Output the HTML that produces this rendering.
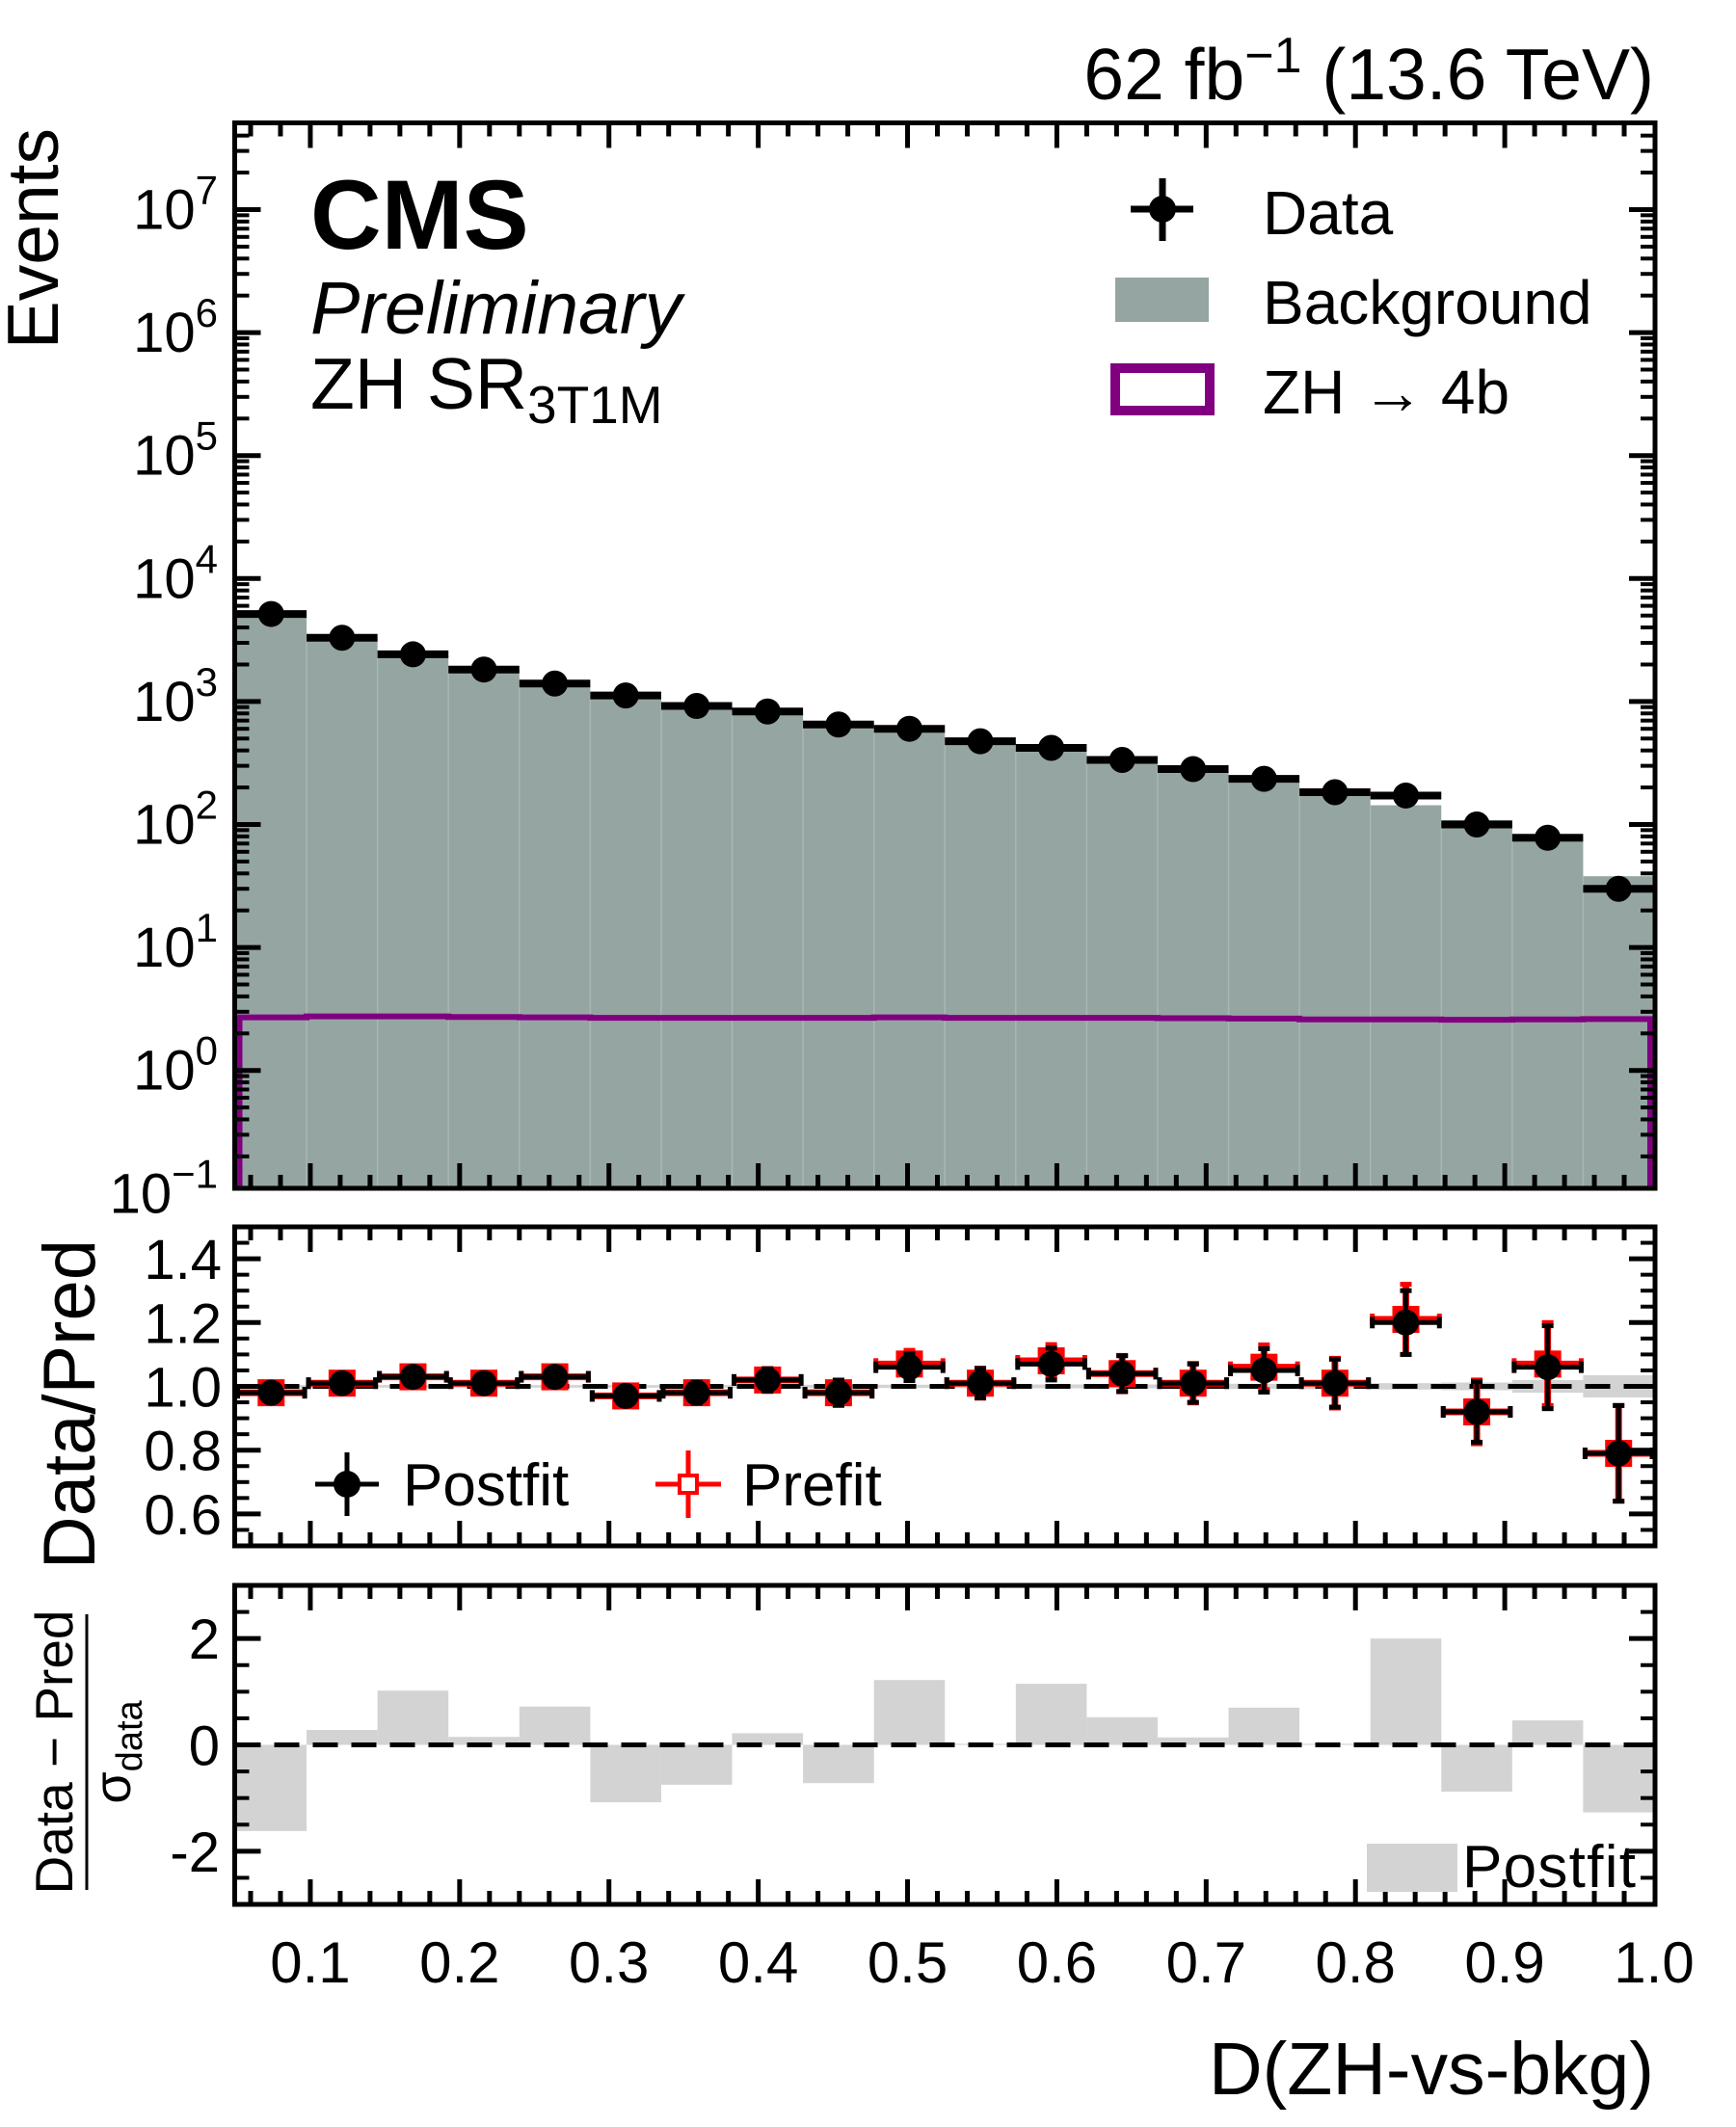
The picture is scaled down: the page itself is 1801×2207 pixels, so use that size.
<!DOCTYPE html>
<html><head><meta charset="utf-8">
<style>
html,body{margin:0;padding:0;background:#fff;}
svg{display:block;font-family:"Liberation Sans",sans-serif;}
</style></head>
<body>
<svg id="chart" width="1801" height="2207" viewBox="0 0 1801 2207" xmlns="http://www.w3.org/2000/svg">
  <g id="main-layer"></g>
  <g id="ratio-layer"></g>
  <g id="pull-layer"></g>
  <g id="axes-layer"></g>

  <text x="1716" y="103" font-size="75" text-anchor="end">62 fb<tspan dy="-28" font-size="52">−1</tspan><tspan dy="28"> (13.6 TeV)</tspan></text>
  <text x="322" y="258" font-size="102" font-weight="bold">CMS</text>
  <text x="322" y="346" font-size="77" font-style="italic">Preliminary</text>
  <text x="322" y="424" font-size="75">ZH SR<tspan dy="15" font-size="55">3T1M</tspan></text>

  <g>
    <line x1="1173" y1="217" x2="1238" y2="217" stroke="#000" stroke-width="7"/>
    <line x1="1206" y1="185" x2="1206" y2="250" stroke="#000" stroke-width="7"/>
    <circle cx="1206" cy="217" r="14"/>
    <text x="1310" y="243" font-size="64">Data</text>
  </g>
  <g>
    <rect x="1157" y="288" width="97" height="46" fill="#95a5a2"/>
    <text x="1310" y="336" font-size="64">Background</text>
  </g>
  <g>
    <rect x="1157" y="382" width="98" height="44" fill="none" stroke="#800080" stroke-width="10"/>
    <text x="1310" y="429" font-size="64">ZH → 4b</text>
  </g>

  <g>
    <line x1="327" y1="1540" x2="393" y2="1540" stroke="#000" stroke-width="5"/>
    <line x1="360" y1="1507" x2="360" y2="1573" stroke="#000" stroke-width="5"/>
    <circle cx="360" cy="1540" r="14"/>
    <text x="418" y="1562" font-size="62">Postfit</text>
  </g>
  <g>
    <line x1="680" y1="1540" x2="748" y2="1540" stroke="#f00" stroke-width="5"/>
    <line x1="714" y1="1505" x2="714" y2="1575" stroke="#f00" stroke-width="5"/>
    <rect x="705" y="1531" width="18" height="18" fill="#fff" stroke="#f00" stroke-width="4"/>
    <text x="770" y="1562" font-size="62">Prefit</text>
  </g>
  <g>
    <rect x="1418" y="1913" width="94" height="50" fill="#d3d3d3"/>
    <text x="1517" y="1958" font-size="62" textLength="180">Postfit</text>
  </g>

  <text transform="translate(60,133) rotate(-90)" font-size="75" text-anchor="end">Events</text>
  <text transform="translate(98,1286) rotate(-90)" font-size="76" text-anchor="end">Data/Pred</text>
  <g>
    <text transform="translate(75,1818) rotate(-90)" font-size="55" text-anchor="middle">Data − Pred</text>
    <line x1="90" y1="1675" x2="90" y2="1961" stroke="#000" stroke-width="3"/>
    <text transform="translate(135,1818) rotate(-90)" font-size="54" text-anchor="middle">σ<tspan dy="12" font-size="38">data</tspan></text>
  </g>
  <text x="1716" y="2173" font-size="77" text-anchor="end">D(ZH-vs-bkg)</text>
</svg>
<script>
// ---- data ----
const binEdges = [0.05,0.0975,0.145,0.1925,0.24,0.2875,0.335,0.3825,0.43,0.4775,0.525,0.5725,0.62,0.6675,0.715,0.7625,0.81,0.8575,0.905,0.9525,1.0];
const dataCounts = [5150,3300,2420,1820,1400,1120,920,830,650,600,475,420,335,282,235,183,172,100,78,30];
const postfitRatio = [0.98,1.01,1.03,1.01,1.03,0.97,0.98,1.02,0.98,1.06,1.01,1.07,1.04,1.01,1.05,1.01,1.20,0.92,1.06,0.79];
const postfitRatioErr = [0.014,0.018,0.021,0.024,0.027,0.03,0.033,0.035,0.039,0.042,0.046,0.05,0.056,0.06,0.068,0.075,0.1,0.095,0.13,0.15];
const prefitRatio = [0.98,1.01,1.03,1.01,1.03,0.97,0.98,1.02,0.98,1.07,1.01,1.08,1.04,1.01,1.06,1.01,1.21,0.92,1.07,0.79];
const prefitRatioErr = [0.015,0.019,0.022,0.025,0.028,0.031,0.034,0.036,0.04,0.043,0.047,0.051,0.057,0.062,0.07,0.078,0.11,0.1,0.13,0.15];
const bandErr = [0.004,0.004,0.004,0.004,0.004,0.004,0.004,0.005,0.005,0.005,0.005,0.006,0.006,0.007,0.008,0.009,0.01,0.012,0.02,0.035];
const signalCounts = [2.7,2.75,2.75,2.72,2.7,2.68,2.68,2.68,2.68,2.7,2.68,2.68,2.68,2.66,2.64,2.6,2.6,2.58,2.6,2.62];
const pullValues = [-1.62,0.28,1.02,0.15,0.72,-1.08,-0.75,0.22,-0.72,1.22,0.02,1.15,0.52,0.14,0.70,0.02,2.0,-0.88,0.46,-1.27];
const xTickLabels = ["0.1","0.2","0.3","0.4","0.5","0.6","0.7","0.8","0.9","1.0"];
const ratioTickLabels = ["0.6","0.8","1.0","1.2","1.4"];
const pullTickLabels = ["-2","0","2"];

const NS = "http://www.w3.org/2000/svg";
const L = 244.5, R = 1716;
const MT = 127.5, MB = 1233, RT = 1273, RB = 1604, PT = 1645, PB = 1976;
const xs = v => L + (v - 0.05) * (R - L) / 0.95;
const ym = v => 217.5 + (7 - Math.log10(v)) * 127.6;
const yr = v => RB - (v - 0.5) * (RB - RT);
const yp = v => 1810.5 - v * (PB - PT) / 6;

function mk(parent, tag, attrs) {
  const e = document.createElementNS(NS, tag);
  for (const k in attrs) e.setAttribute(k, attrs[k]);
  parent.appendChild(e);
  return e;
}
const main = document.getElementById('main-layer');
const ratio = document.getElementById('ratio-layer');
const pull = document.getElementById('pull-layer');
const axes = document.getElementById('axes-layer');

for (let i = 0; i < dataCounts.length; i++) {
  const bkg = dataCounts[i] / postfitRatio[i];
  const x0 = xs(binEdges[i]), x1 = xs(binEdges[i+1]);
  const r = mk(main, 'rect', {x: x0, y: ym(bkg), width: x1 - x0, height: MB - ym(bkg), fill: '#95a5a2'});
  
  
  if (i > 0) mk(main, 'line', {x1: x0, x2: x0, y1: ym(bkg), y2: MB, stroke: '#a9b7b4', 'stroke-width': 1.5});
}
let sp = `M${xs(binEdges[0]) + 4},${MB} `;
for (let i = 0; i < signalCounts.length; i++) {
  const xa = i === 0 ? xs(binEdges[i]) + 4 : xs(binEdges[i]);
  const xb = i === signalCounts.length - 1 ? xs(binEdges[i+1]) - 4 : xs(binEdges[i+1]);
  sp += `L${xa},${ym(signalCounts[i])} L${xb},${ym(signalCounts[i])} `;
}
sp += `L${xs(binEdges[binEdges.length-1]) - 4},${MB}`;
const sig = mk(main, 'path', {d: sp, fill: 'none', stroke: '#800080', 'stroke-width': 6});


for (let i = 0; i < dataCounts.length; i++) {
  const g = mk(main, 'g', {});
  
  
  const y = ym(dataCounts[i]);
  const err = Math.sqrt(dataCounts[i]);
  const cx = (xs(binEdges[i]) + xs(binEdges[i+1])) / 2;
  mk(g, 'line', {x1: xs(binEdges[i]), x2: xs(binEdges[i+1]), y1: y, y2: y, stroke: '#000', 'stroke-width': 8});
  mk(g, 'line', {x1: cx, x2: cx, y1: ym(dataCounts[i]+err), y2: ym(dataCounts[i]-err), stroke: '#000', 'stroke-width': 6});
  mk(g, 'circle', {cx: cx, cy: y, r: 13.5, fill: '#000'});
}

for (let i = 0; i < bandErr.length; i++) {
  const x0 = xs(binEdges[i]), x1 = xs(binEdges[i+1]);
  const b = mk(ratio, 'rect', {x: x0, y: yr(1 + bandErr[i]), width: x1 - x0, height: yr(1 - bandErr[i]) - yr(1 + bandErr[i]), fill: '#d3d3d3'});
  
  
}
mk(ratio, 'line', {x1: L, x2: R, y1: yr(1), y2: yr(1), stroke: '#000', 'stroke-width': 5, 'stroke-dasharray': '26 14'});
function errPoint(parent, i, val, err, color, isPre) {
  const g = mk(parent, 'g', {});
  
  
  const cx = (xs(binEdges[i]) + xs(binEdges[i+1])) / 2;
  const x0 = xs(binEdges[i]) + 2, x1 = xs(binEdges[i+1]) - 2;
  const y = yr(val), yt = yr(val + err), yb = yr(val - err);
  const w = isPre ? 7 : 5;
  mk(g, 'line', {x1: x0, x2: x1, y1: y, y2: y, stroke: color, 'stroke-width': w});
  mk(g, 'line', {x1: cx, x2: cx, y1: yt, y2: yb, stroke: color, 'stroke-width': w});
  mk(g, 'line', {x1: cx - 6, x2: cx + 6, y1: yt, y2: yt, stroke: color, 'stroke-width': 5});
  mk(g, 'line', {x1: cx - 6, x2: cx + 6, y1: yb, y2: yb, stroke: color, 'stroke-width': 5});
  mk(g, 'line', {x1: x0, x2: x0, y1: y - 6, y2: y + 6, stroke: color, 'stroke-width': 5});
  mk(g, 'line', {x1: x1, x2: x1, y1: y - 6, y2: y + 6, stroke: color, 'stroke-width': 5});
  if (isPre) mk(g, 'rect', {x: cx - 14, y: y - 14, width: 28, height: 28, fill: color});
  else mk(g, 'circle', {cx: cx, cy: y, r: 13.5, fill: color});
}
for (let i = 0; i < prefitRatio.length; i++) errPoint(ratio, i, prefitRatio[i], prefitRatioErr[i], '#f00', true);
for (let i = 0; i < postfitRatio.length; i++) errPoint(ratio, i, postfitRatio[i], postfitRatioErr[i], '#000', false);

for (let i = 0; i < pullValues.length; i++) {
  const x0 = xs(binEdges[i]), x1 = xs(binEdges[i+1]);
  const y0 = yp(Math.max(0, pullValues[i])), y1 = yp(Math.min(0, pullValues[i]));
  const b = mk(pull, 'rect', {x: x0, y: y0, width: x1 - x0, height: y1 - y0, fill: '#d3d3d3'});
  
  
}
mk(pull, 'line', {x1: L, x2: R, y1: yp(0), y2: yp(0), stroke: '#000', 'stroke-width': 5, 'stroke-dasharray': '26 14'});

function frame(top, bot) {
  const f = mk(axes, 'rect', {x: L - 1, y: top, width: R - L + 2, height: bot - top, fill: 'none', stroke: '#000', 'stroke-width': 5});
  
  
  for (let k = 3; k <= 50; k++) {
    const v = k * 0.02;
    if (v < 0.051 || v > 0.999) continue;
    const major = (k % 5 === 0);
    const len = major ? 26 : 14;
    const x = xs(v);
    mk(axes, 'line', {x1: x, x2: x, y1: top, y2: top + len, stroke: '#000', 'stroke-width': 5});
    mk(axes, 'line', {x1: x, x2: x, y1: bot, y2: bot - len, stroke: '#000', 'stroke-width': 5});
  }
}
function ytick(y, major) {
  const len = major ? 26 : 14;
  mk(axes, 'line', {x1: L, x2: L + len, y1: y, y2: y, stroke: '#000', 'stroke-width': major ? 5 : 4});
  mk(axes, 'line', {x1: R, x2: R - len, y1: y, y2: y, stroke: '#000', 'stroke-width': major ? 5 : 4});
}
frame(MT, MB); frame(RT, RB); frame(PT, PB);

for (let d = -1; d <= 7; d++) {
  for (let m = 1; m <= 9; m++) {
    const y = ym(m * Math.pow(10, d));
    if (y < MT + 2 || y > MB - 1) continue;
    ytick(y, m === 1);
  }
  const y = ym(Math.pow(10, d));
  const t = mk(axes, 'text', {x: 226, y: y + 20, 'font-size': 58, 'text-anchor': 'end'});
  
  
  t.textContent = '10';
  const s = mk(t, 'tspan', {dy: -26, 'font-size': 42});
  s.textContent = d < 0 ? '−1' : String(d);
}
for (let k = 11; k <= 29; k++) {
  const v = k * 0.05;
  ytick(yr(v), k % 4 === 0);
}
ratioTickLabels.forEach(s => {
  const t = mk(axes, 'text', {x: 230, y: yr(parseFloat(s)) + 21, 'font-size': 58, 'text-anchor': 'end'});
  
  
  t.textContent = s;
});
for (let k = -5; k <= 5; k++) ytick(yp(k * 0.5), k % 4 === 0);
pullTickLabels.forEach(s => {
  const t = mk(axes, 'text', {x: 228, y: yp(parseFloat(s)) + 21, 'font-size': 58, 'text-anchor': 'end'});
  
  
  t.textContent = s;
});
xTickLabels.forEach(s => {
  const t = mk(axes, 'text', {x: xs(parseFloat(s)), y: 2057, 'font-size': 60, 'text-anchor': 'middle'});
  
  
  t.textContent = s;
});
</script>
</body></html>
